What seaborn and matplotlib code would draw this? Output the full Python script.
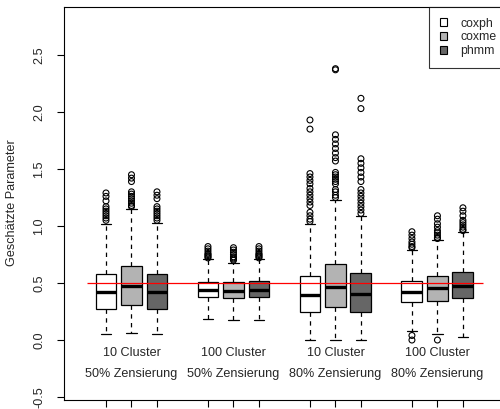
import numpy as np
import pandas as pd
import matplotlib
matplotlib.use("Agg")
import matplotlib.pyplot as plt
from matplotlib.patches import Patch
import seaborn as sns

# methods and scenarios (group labels shown inside the plot)
methods = ["coxph", "coxme", "phmm"]
method_colors = ["#ffffff", "#b3b3b3", "#666666"]
group_line1 = ["10 Cluster", "100 Cluster", "10 Cluster", "100 Cluster"]
group_line2 = ["50% Zensierung", "50% Zensierung", "80% Zensierung", "80% Zensierung"]
true_value = 0.5

# box statistics, one entry per box (group-major order)
whislo = [0.055, 0.06, 0.055, 0.185, 0.175, 0.18, 0.0, 0.0, 0.0, 0.08, 0.055, 0.03]
q1 = [0.272, 0.307, 0.27, 0.38, 0.37, 0.38, 0.25, 0.29, 0.25, 0.33, 0.34, 0.37]
med = [0.42, 0.474, 0.42, 0.44, 0.43, 0.44, 0.395, 0.465, 0.40, 0.42, 0.46, 0.475]
q3 = [0.579, 0.649, 0.58, 0.51, 0.51, 0.52, 0.56, 0.667, 0.59, 0.52, 0.56, 0.60]
whishi = [1.02, 1.15, 1.03, 0.71, 0.68, 0.71, 1.02, 1.23, 1.09, 0.79, 0.88, 0.95]

# outliers per box
outliers = [
    [1.29, 1.26, 1.22, 1.17, 1.15, 1.13, 1.11, 1.09, 1.07, 1.05],
    [1.45, 1.42, 1.39, 1.30, 1.28, 1.26, 1.24, 1.22, 1.20, 1.18, 1.17],
    [1.30, 1.27, 1.24, 1.17, 1.15, 1.13, 1.11, 1.09, 1.07, 1.05],
    [0.82, 0.80, 0.78, 0.76, 0.75, 0.74, 0.73, 0.72],
    [0.81, 0.79, 0.77, 0.75, 0.73, 0.72, 0.71, 0.70],
    [0.82, 0.80, 0.78, 0.76, 0.75, 0.74, 0.73, 0.72],
    [1.93, 1.85, 1.46, 1.43, 1.40, 1.37, 1.33, 1.30, 1.27, 1.24, 1.21, 1.18, 1.12, 1.09, 1.06, 1.04],
    [2.38, 2.37, 1.80, 1.76, 1.72, 1.68, 1.64, 1.60, 1.57, 1.47, 1.45, 1.43, 1.41, 1.39, 1.37,
     1.32, 1.30, 1.27, 1.25],
    [2.12, 2.03, 1.59, 1.55, 1.51, 1.47, 1.43, 1.39, 1.32, 1.29, 1.26, 1.23, 1.20, 1.17, 1.14, 1.11],
    [0.95, 0.92, 0.89, 0.86, 0.84, 0.82, 0.81, 0.04, 0.00],
    [1.09, 1.06, 1.02, 0.99, 0.96, 0.94, 0.92, 0.90, 0.89, 0.00],
    [1.16, 1.13, 1.09, 1.05, 1.03, 1.01, 0.99, 0.97, 0.96],
]

if __name__ == "__main__":
    sns.set_style("ticks")
    plt.rcParams['font.family'] = ['Liberation Sans', 'DejaVu Sans']

    n_groups = len(group_line1)
    n_meth = len(methods)
    # positions like R: 1,2,3, 5,6,7, ...
    positions = [g * (n_meth + 1) + m + 1 for g in range(n_groups) for m in range(n_meth)]
    colors = [method_colors[m] for g in range(n_groups) for m in range(n_meth)]

    stats = []
    for i in range(len(positions)):
        stats.append(dict(whislo=whislo[i], q1=q1[i], med=med[i], q3=q3[i],
                          whishi=whishi[i], fliers=[]))

    fig = plt.figure(figsize=(5.0, 4.09), dpi=100)
    ax = fig.add_axes([64 / 500, 9 / 409, 441 / 500, 393 / 409])

    bp = ax.bxp(stats, positions=positions, widths=0.82, patch_artist=True,
                showfliers=False, capwidths=0.41,
                boxprops=dict(edgecolor="black", linewidth=0.9),
                medianprops=dict(color="black", linewidth=2.4),
                whiskerprops=dict(color="black", linewidth=0.9, linestyle=(0, (3.5, 3.5))),
                capprops=dict(color="black", linewidth=0.9))
    for patch, c in zip(bp["boxes"], colors):
        patch.set_facecolor(c)

    # outliers as open circles
    out_df = pd.DataFrame({
        "pos": [p for p, vals in zip(positions, outliers) for _ in vals],
        "value": [v for vals in outliers for v in vals],
    })
    sns.scatterplot(data=out_df, x="pos", y="value", ax=ax, marker="o", s=18,
                    facecolor="none", edgecolor="black", linewidth=0.8, zorder=3)

    # true parameter
    ax.hlines(true_value, positions[0] - 0.75, positions[-1] + 0.78, color="#ff0000",
              linewidth=0.9, zorder=5)

    # group labels
    for g in range(n_groups):
        xc = positions[g * n_meth + 1]
        ax.text(xc, -0.114, group_line1[g], ha="center", va="center", fontsize=9.1)
        ax.text(xc, -0.298, group_line2[g], ha="center", va="center", fontsize=9.1)

    ax.set_xlim(-0.647, 16.65)
    ax.set_ylim(-0.526, 2.921)
    ax.set_xticks(positions)
    ax.set_xticklabels([])
    ax.set_yticks(np.arange(-0.5, 2.51, 0.5))
    ax.set_yticklabels([f"{v:.1f}" for v in np.arange(-0.5, 2.51, 0.5)],
                       rotation=90, va="center", fontsize=9.1)
    ax.tick_params(axis="both", length=5, width=0.8, color="black", direction="out")
    ax.tick_params(axis="y", pad=8.5)
    ax.set_xlabel("")
    ax.set_ylabel("")
    for s in ax.spines.values():
        s.set_visible(True)
        s.set_color("black")
        s.set_linewidth(0.8)

    fig.text(12 / 500, 1 - 203 / 409, "Geschätzte Parameter", rotation=90,
             ha="center", va="center", fontsize=9.1)

    handles = [Patch(facecolor=c, edgecolor="black", linewidth=0.8) for c in method_colors]
    leg = ax.legend(handles, methods, loc="upper right", bbox_to_anchor=(1.005, 1.0),
                    borderaxespad=0, fontsize=8.8,
                    frameon=True, fancybox=False, edgecolor="black",
                    handlelength=0.6, handleheight=0.6, handletextpad=1.1,
                    labelspacing=0.15, borderpad=0.86)
    leg.get_frame().set_linewidth(0.8)

    fig.savefig("out.png", dpi=100)
